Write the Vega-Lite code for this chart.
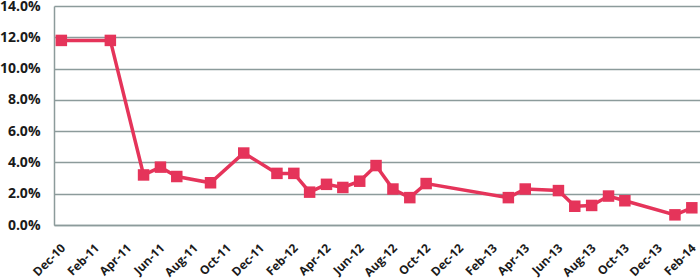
{
  "$schema": "https://vega.github.io/schema/vega-lite/v6.json",
  "autosize": {"type": "none"},
  "padding": {"left": 54, "top": 6, "right": 0, "bottom": 54},
  "width": 646,
  "height": 219,
  "background": "#ffffff",
  "config": {
    "view": {"stroke": null},
    "axis": {
      "labelFont": "Open Sans",
      "labelFontWeight": "bold",
      "labelColor": "#1a1a1a",
      "gridColor": "#8C9B9B",
      "gridWidth": 1.5,
      "domainColor": "#8C9B9B",
      "domainWidth": 1.5,
      "ticks": false,
      "title": null
    }
  },
  "data": {
    "values": [
      {"date": "2010-12-01", "rate": 0.118},
      {"date": "2011-03-01", "rate": 0.118},
      {"date": "2011-05-01", "rate": 0.032},
      {"date": "2011-06-01", "rate": 0.037},
      {"date": "2011-07-01", "rate": 0.031},
      {"date": "2011-09-01", "rate": 0.027},
      {"date": "2011-11-01", "rate": 0.046},
      {"date": "2012-01-01", "rate": 0.033},
      {"date": "2012-02-01", "rate": 0.033},
      {"date": "2012-03-01", "rate": 0.021},
      {"date": "2012-04-01", "rate": 0.026},
      {"date": "2012-05-01", "rate": 0.024},
      {"date": "2012-06-01", "rate": 0.028},
      {"date": "2012-07-01", "rate": 0.038},
      {"date": "2012-08-01", "rate": 0.023},
      {"date": "2012-09-01", "rate": 0.0175},
      {"date": "2012-10-01", "rate": 0.0265},
      {"date": "2013-03-01", "rate": 0.0175},
      {"date": "2013-04-01", "rate": 0.023},
      {"date": "2013-06-01", "rate": 0.022},
      {"date": "2013-07-01", "rate": 0.012},
      {"date": "2013-08-01", "rate": 0.0125},
      {"date": "2013-09-01", "rate": 0.0185},
      {"date": "2013-10-01", "rate": 0.0155},
      {"date": "2014-01-01", "rate": 0.0065},
      {"date": "2014-02-01", "rate": 0.011}
    ]
  },
  "mark": {
    "type": "line",
    "color": "#E5345A",
    "strokeWidth": 3.5,
    "point": {"shape": "square", "size": 132, "filled": true, "color": "#E5345A", "opacity": 1}
  },
  "encoding": {
    "x": {
      "field": "date",
      "type": "temporal",
      "scale": {
        "type": "utc",
        "domain": [
          {"year": 2010, "month": 11, "date": 17, "hours": 12, "utc": true},
          {"year": 2014, "month": 2, "date": 16, "utc": true}
        ]
      },
      "axis": {
        "grid": false,
        "labelExpr": "utcFormat(datum.value, '%b-%y')",
        "labelFontSize": 12,
        "labelAngle": -45,
        "labelPadding": 17,
        "labelOffset": -2,
        "labelOverlap": false,
        "labelBound": false,
        "labelFlush": false,
        "values": [
          {"year": 2010, "month": 12, "date": 1, "utc": true},
          {"year": 2011, "month": 2, "date": 1, "utc": true},
          {"year": 2011, "month": 4, "date": 1, "utc": true},
          {"year": 2011, "month": 6, "date": 1, "utc": true},
          {"year": 2011, "month": 8, "date": 1, "utc": true},
          {"year": 2011, "month": 10, "date": 1, "utc": true},
          {"year": 2011, "month": 12, "date": 1, "utc": true},
          {"year": 2012, "month": 2, "date": 1, "utc": true},
          {"year": 2012, "month": 4, "date": 1, "utc": true},
          {"year": 2012, "month": 6, "date": 1, "utc": true},
          {"year": 2012, "month": 8, "date": 1, "utc": true},
          {"year": 2012, "month": 10, "date": 1, "utc": true},
          {"year": 2012, "month": 12, "date": 1, "utc": true},
          {"year": 2013, "month": 2, "date": 1, "utc": true},
          {"year": 2013, "month": 4, "date": 1, "utc": true},
          {"year": 2013, "month": 6, "date": 1, "utc": true},
          {"year": 2013, "month": 8, "date": 1, "utc": true},
          {"year": 2013, "month": 10, "date": 1, "utc": true},
          {"year": 2013, "month": 12, "date": 1, "utc": true},
          {"year": 2014, "month": 2, "date": 1, "utc": true}
        ]
      }
    },
    "y": {
      "field": "rate",
      "type": "quantitative",
      "scale": {"domain": [0, 0.14], "nice": false, "zero": true},
      "axis": {
        "format": ".1%",
        "labelFontSize": 14,
        "values": [0, 0.02, 0.04, 0.06, 0.08, 0.1, 0.12, 0.14],
        "labelPadding": 14
      }
    }
  }
}
